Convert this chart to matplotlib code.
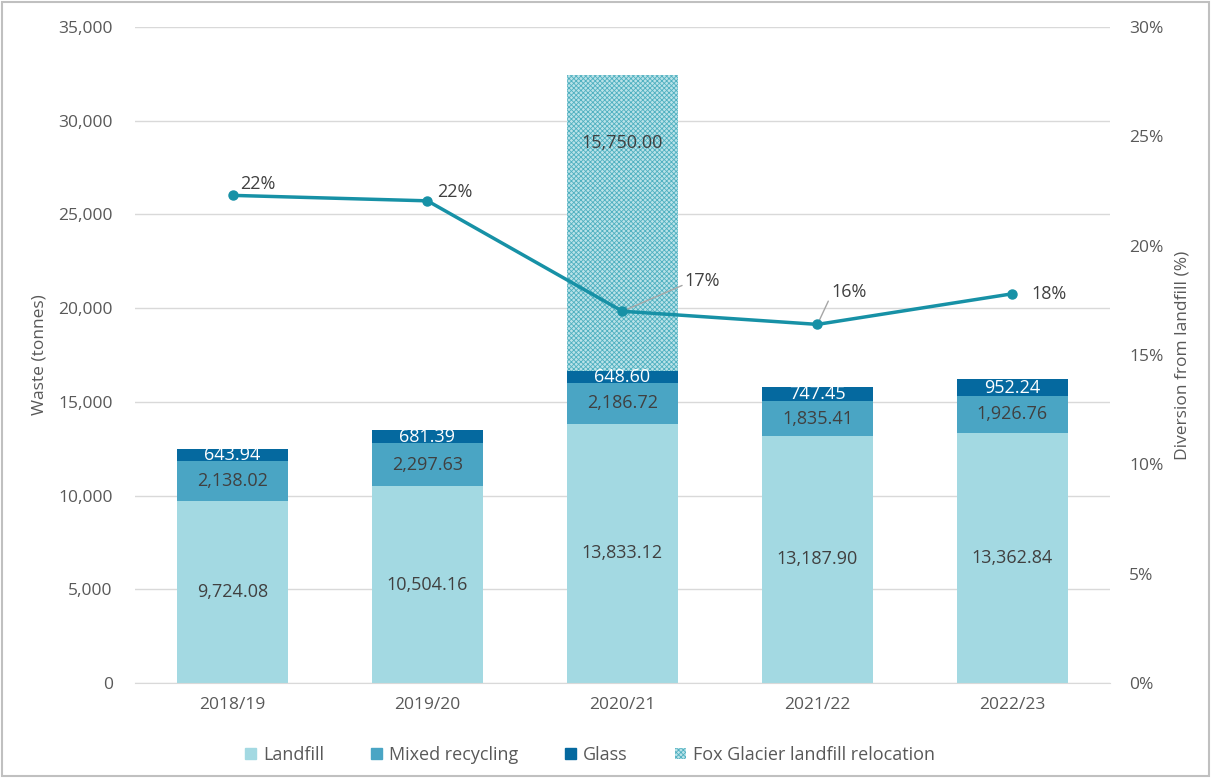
import numpy as np
import matplotlib
matplotlib.use('Agg')
from matplotlib import pyplot as plt
from matplotlib.patches import Rectangle, Patch
from matplotlib.ticker import FuncFormatter

years = ['2018/19', '2019/20', '2020/21', '2021/22', '2022/23']
landfill = [9724.08, 10504.16, 13833.12, 13187.90, 13362.84]
mixed = [2138.02, 2297.63, 2186.72, 1835.41, 1926.76]
glass = [643.94, 681.39, 648.60, 747.45, 952.24]
fox = [0, 0, 15750.00, 0, 0]
diversion = [22.3, 22.05, 17.0, 16.4, 17.8]
div_labels = ['22%', '22%', '17%', '16%', '18%']

c_land = '#a3d9e2'
c_mixed = '#4aa5c4'
c_glass = '#05699f'
c_line = '#1791a6'
grey = '#595959'

plt.rcParams['font.family'] = ['Open Sans', 'DejaVu Sans']

fig = plt.figure(figsize=(12.11, 7.78), dpi=100)
ax = fig.add_axes([0.1115, 0.1221, 0.805, 0.8432])
fig.patches.append(Rectangle((0.0015, 0.002), 0.997, 0.995, transform=fig.transFigure,
                             fill=False, edgecolor='#c0c0c0', linewidth=1.5))

x = np.arange(len(years))
w = 0.57
land = np.array(landfill)
mix = np.array(mixed)
gl = np.array(glass)
fx = np.array(fox)

ax.bar(x, land, w, color=c_land, label='Landfill', zorder=2)
ax.bar(x, mix, w, bottom=land, color=c_mixed, label='Mixed recycling', zorder=2)
ax.bar(x, gl, w, bottom=land + mix, color=c_glass, label='Glass', zorder=2)
plt.rcParams['hatch.linewidth'] = 0.6
ax.bar(x, fx, w, bottom=land + mix + gl, color='#b9e2e8', edgecolor='#4fb0c0',
       hatch='xxxxxxx', linewidth=0, label='Fox Glacier landfill relocation', zorder=2)

for i in range(len(years)):
    ax.text(x[i], land[i] / 2, f'{landfill[i]:,.2f}', ha='center', va='center',
            fontsize=13, color='#404040', zorder=5)
    ax.text(x[i], land[i] + mix[i] / 2, f'{mixed[i]:,.2f}', ha='center', va='center',
            fontsize=13, color='#404040', zorder=5)
    ax.text(x[i], land[i] + mix[i] + gl[i] / 2, f'{glass[i]:,.2f}', ha='center', va='center',
            fontsize=13, color='white', zorder=5)
    if fox[i] > 0:
        ax.text(x[i], land[i] + mix[i] + gl[i] + fox[i] * 0.77, f'{fox[i]:,.2f}',
                ha='center', va='center', fontsize=13, color='#404040', zorder=5)

ax.set_xlim(-0.5, 4.5)
ax.set_ylim(0, 35000)
ax.set_yticks(np.arange(0, 35001, 5000))
ax.yaxis.set_major_formatter(FuncFormatter(lambda v, p: f'{v:,.0f}'))
ax.grid(axis='y', color='#d9d9d9', linewidth=1, zorder=0)
ax.set_axisbelow(True)
for s in ['top', 'left', 'right']:
    ax.spines[s].set_visible(False)
ax.spines['bottom'].set_color('#d9d9d9')
ax.set_xticks(x)
ax.set_xticklabels(years)
ax.tick_params(axis='both', length=0, colors=grey, labelsize=12.5)
ax.tick_params(axis='y', pad=16)
ax.tick_params(axis='x', pad=10)
ax.set_ylabel('Waste (tonnes)', color=grey, fontsize=12.5, labelpad=8)

ax2 = ax.twinx()
ax2.plot(x, diversion, color=c_line, linewidth=2.5, marker='o', markersize=6.5, zorder=6)
ax2.set_ylim(0, 30)
ax2.set_yticks(np.arange(0, 31, 5))
ax2.yaxis.set_major_formatter(FuncFormatter(lambda v, p: f'{v:.0f}%'))
for s in ['top', 'left', 'right', 'bottom']:
    ax2.spines[s].set_visible(False)
ax2.tick_params(axis='y', length=0, colors=grey, labelsize=12.5, pad=14)
ax2.set_ylabel('Diversion from landfill (%)', color=grey, fontsize=12.5, labelpad=8)

# line labels
offsets = [(0.04, 0.5), (0.05, 0.4), (0.32, 1.4), (0.07, 1.5), (0.1, 0.0)]
for i in range(len(years)):
    dx, dy = offsets[i]
    if i in (2, 3):
        ax2.annotate(div_labels[i], xy=(x[i], diversion[i]), xytext=(x[i] + dx, diversion[i] + dy),
                     fontsize=13, color='#404040', va='center', ha='left',
                     arrowprops=dict(arrowstyle='-', color='#a6a6a6', linewidth=1,
                                     shrinkA=0, shrinkB=3, relpos=(0, 0.3)))
    else:
        ax2.text(x[i] + dx, diversion[i] + dy, div_labels[i], fontsize=13, color='#404040',
                 va='center', ha='left')

handles = [Patch(color=c_land), Patch(color=c_mixed), Patch(color=c_glass),
           Patch(facecolor='#b9e2e8', edgecolor='#4fb0c0', hatch='xxxxxxx', linewidth=0)]
fig.legend(handles, ['Landfill', 'Mixed recycling', 'Glass', 'Fox Glacier landfill relocation'],
           loc='center', bbox_to_anchor=(0.487, 0.03), ncol=4, frameon=False,
           fontsize=13, handlelength=0.6, handleheight=0.6, columnspacing=2.6,
           handletextpad=0.4, labelcolor=grey)

fig.savefig('out.png', dpi=100)
